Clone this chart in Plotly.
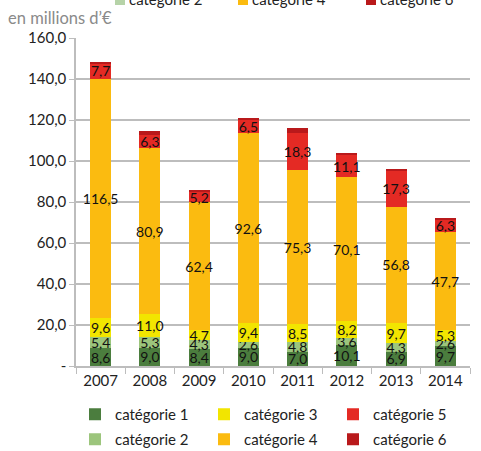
import plotly.graph_objects as go

years = ["2007", "2008", "2009", "2010", "2011", "2012", "2013", "2014"]
cat1 = [8.6, 9.0, 8.4, 9.0, 7.0, 10.1, 6.9, 9.7]
cat2 = [5.4, 5.3, 4.3, 2.6, 4.8, 3.6, 4.3, 2.6]
cat3 = [9.6, 11.0, 4.7, 9.4, 8.5, 8.2, 9.7, 5.3]
cat4 = [116.5, 80.9, 62.4, 92.6, 75.3, 70.1, 56.8, 47.7]
cat5 = [7.7, 6.3, 5.2, 6.5, 18.3, 11.1, 17.3, 6.3]
cat6 = [0.6, 2.2, 1.0, 0.4, 2.0, 0.5, 1.3, 0.3]

names = ["catégorie 1", "catégorie 2", "catégorie 3", "catégorie 4", "catégorie 5", "catégorie 6"]
bar_colors = ["#4b7d3e", "#9cc57c", "#f2e500", "#fbbb10", "#e42a24", "#b9191b"]
legend_colors = ["#4b7d3e", "#b6d3a8", "#f2e500", "#fbbb10", "#e42a24", "#b9191b"]
# odd categories in the first legend row, even ones in the second
legend_rows = ["legend", "legend2", "legend", "legend2", "legend", "legend2"]

y_ticks = [0, 20, 40, 60, 80, 100, 120, 140, 160]
y_tick_text = ["-", "20,0", "40,0", "60,0", "80,0", "100,0", "120,0", "140,0", "160,0"]

FONT = "Lato"
W, H = 481, 451
ML, MR, MT, MB = 76, 11, 38, 85
PW, PH = W - ML - MR, H - MT - MB


def px_x(p):
    return (p - ML) / PW


def px_y(p):
    return 1 + (MT - p) / PH


fig = go.Figure()
series = [cat1, cat2, cat3, cat4, cat5, cat6]
for i, vals in enumerate(series):
    show_text = i < 5
    fig.add_trace(go.Bar(
        x=years, y=vals, name=names[i],
        marker=dict(color=bar_colors[i], line=dict(width=0)),
        legend=legend_rows[i],
        text=[f"{v:.1f}".replace(".", ",") for v in vals] if show_text else None,
        textposition="inside" if show_text else "none",
        insidetextanchor="middle",
        textangle=0,
        textfont=dict(family=FONT, size=14, color="#111"),
        constraintext="none",
        showlegend=True,
    ))

# Partly visible legend row along the top edge
top_items = [(117, "catégorie 2", legend_colors[1]),
             (240, "catégorie 4", legend_colors[3]),
             (368, "catégorie 6", legend_colors[5])]
for xpix, label, col in top_items:
    fig.add_shape(type="rect", xref="paper", yref="paper",
                  x0=px_x(xpix - 2), x1=px_x(xpix + 8),
                  y0=px_y(5), y1=px_y(-6), fillcolor=col, line=dict(width=0))
    fig.add_annotation(xref="paper", yref="paper", x=px_x(xpix + 10), y=px_y(-1),
                       text=label, showarrow=False, xanchor="left", yanchor="middle",
                       font=dict(family=FONT, size=15, color="#222"))

fig.add_annotation(xref="paper", yref="paper", x=px_x(6), y=px_y(18),
                   text="en millions d’€", showarrow=False, xanchor="left", yanchor="middle",
                   font=dict(family=FONT, size=16.5, color="#8a8a8a"))

legend_style = dict(orientation="h", traceorder="normal", xanchor="left", yanchor="top",
                    entrywidth=84, font=dict(family=FONT, size=15, color="#222"),
                    itemclick=False, tracegroupgap=0, bgcolor="rgba(0,0,0,0)")

fig.update_layout(
    width=W, height=H,
    margin=dict(l=ML, r=MR, t=MT, b=MB, autoexpand=False),
    barmode="stack", bargap=0.57,
    plot_bgcolor="white", paper_bgcolor="white",
    font=dict(family=FONT, size=15, color="#222"),
    uniformtext=dict(mode="show", minsize=14),
    legend=dict(x=px_x(75), y=px_y(398), **legend_style),
    legend2=dict(x=px_x(75), y=px_y(423), **legend_style),
    xaxis=dict(showline=True, linecolor="#bdbdbd", linewidth=1.5,
               ticks="outside", tickson="boundaries", ticklen=6, tickcolor="#bdbdbd",
               tickfont=dict(family=FONT, size=15, color="#222")),
    yaxis=dict(range=[0, 160], tickvals=y_ticks, ticktext=y_tick_text,
               showgrid=True, gridcolor="#bdbdbd", gridwidth=1.5,
               showline=True, linecolor="#bdbdbd", linewidth=1.5,
               ticks="outside", ticklen=5, tickcolor="#bdbdbd",
               zeroline=False,
               tickfont=dict(family=FONT, size=15, color="#222")),
)

fig.write_html("out.html")
